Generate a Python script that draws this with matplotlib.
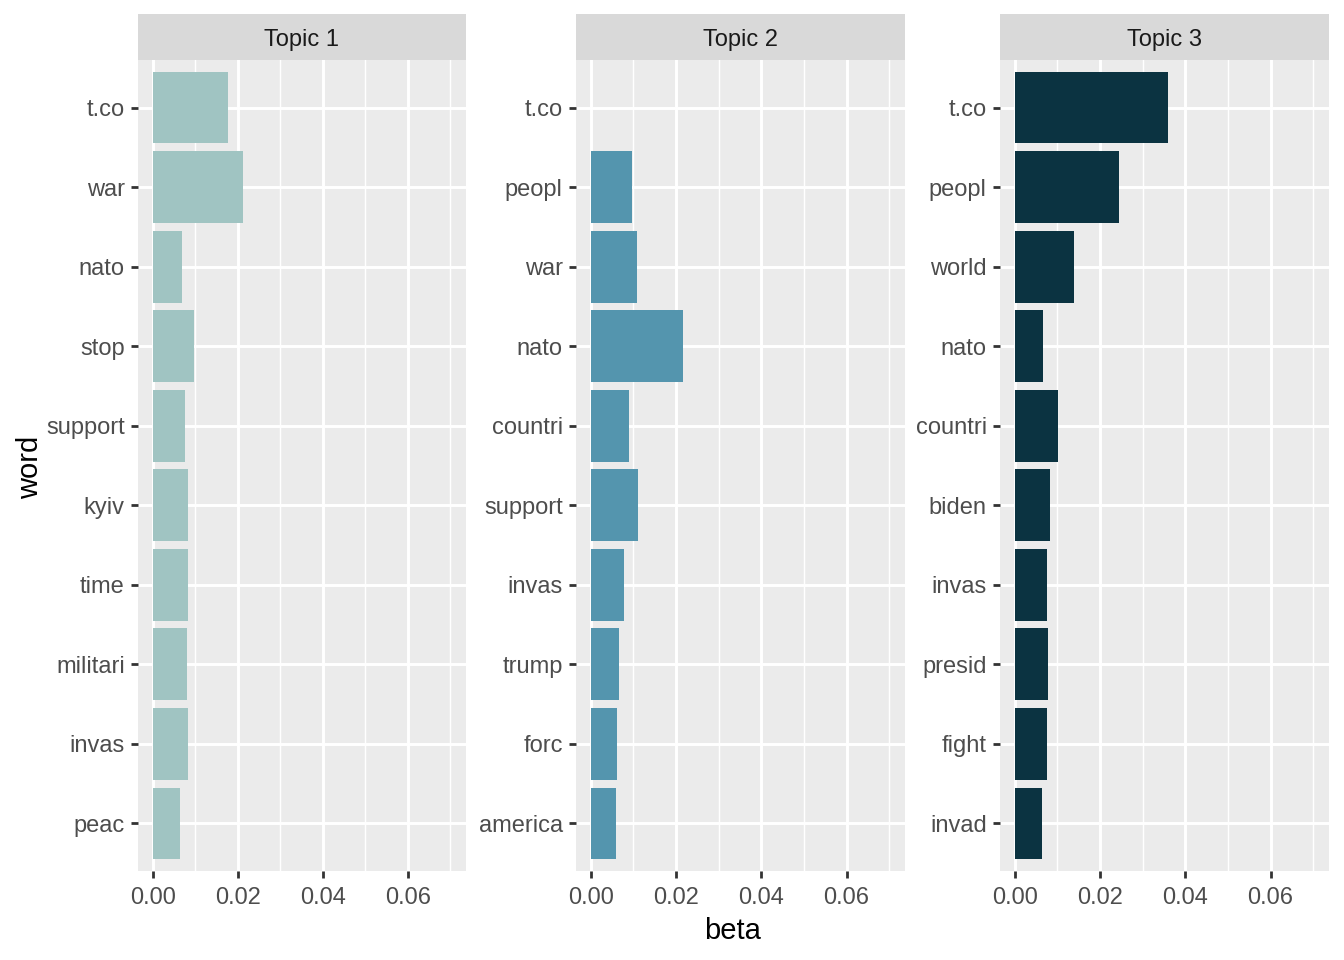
import numpy as np
import matplotlib.pyplot as plt
from matplotlib.ticker import MultipleLocator

# top-to-bottom word order per topic, with beta values
topics = ["Topic 1", "Topic 2", "Topic 3"]
words1 = ["t.co", "war", "nato", "stop", "support", "kyiv", "time", "militari", "invas", "peac"]
beta1 = [0.0178, 0.0213, 0.0068, 0.0096, 0.0077, 0.0084, 0.0084, 0.0080, 0.0084, 0.0065]
words2 = ["t.co", "peopl", "war", "nato", "countri", "support", "invas", "trump", "forc", "america"]
beta2 = [0.0, 0.0096, 0.0108, 0.0216, 0.0089, 0.0111, 0.0078, 0.0066, 0.0061, 0.0059]
words3 = ["t.co", "peopl", "world", "nato", "countri", "biden", "invas", "presid", "fight", "invad"]
beta3 = [0.0360, 0.0245, 0.0139, 0.0066, 0.0101, 0.0082, 0.0075, 0.0078, 0.0075, 0.0064]
colors = ["#A0C4C2", "#5495AE", "#0B3341"]

W, H = 1344, 960
fig = plt.figure(figsize=(W / 100, H / 100), dpi=100)
plt.rcParams['font.family'] = ['Liberation Sans', 'DejaVu Sans']

# panel pixel boxes (left, right)
panels = [(138, 466), (576, 905), (1000, 1329)]
ptop, pbot = 60, 871
stop_ = 14

data = [(words1, beta1), (words2, beta2), (words3, beta3)]
for i, ((l, r), (words, beta)) in enumerate(zip(panels, data)):
    ax = fig.add_axes([l / W, 1 - pbot / H, (r - l) / W, (pbot - ptop) / H])
    ax.set_facecolor("#EBEBEB")
    y = np.arange(len(words))[::-1]
    ax.barh(y, beta, height=0.9, color=colors[i], zorder=3)
    ax.set_xlim(-0.00346, 0.0737)
    ax.set_ylim(-0.6, 9.6)
    ax.set_yticks(y)
    ax.set_yticklabels(words)
    ax.xaxis.set_major_locator(MultipleLocator(0.02))
    ax.xaxis.set_minor_locator(MultipleLocator(0.01))
    ax.set_xticks([0, 0.02, 0.04, 0.06])
    ax.set_xticklabels(["0.00", "0.02", "0.04", "0.06"])
    ax.grid(True, which="major", color="white", linewidth=2.1, zorder=1)
    ax.grid(True, which="minor", axis="x", color="white", linewidth=1.05, zorder=1)
    ax.tick_params(which="major", length=5.3, width=2.0, color="#333333",
                   labelcolor="#4D4D4D", labelsize=17, pad=4.2)
    ax.tick_params(axis="x", which="major", pad=6.5)
    ax.tick_params(which="minor", length=0)
    for s in ax.spines.values():
        s.set_visible(False)
    ax.set_axisbelow(True)

    # facet strip
    sax = fig.add_axes([l / W, 1 - ptop / H, (r - l) / W, (ptop - stop_) / H])
    sax.set_facecolor("#D9D9D9")
    sax.set_xticks([])
    sax.set_yticks([])
    for s in sax.spines.values():
        s.set_visible(False)
    sax.text(0.5, 0.44, topics[i], ha="center", va="center", fontsize=17,
             color="#1A1A1A", transform=sax.transAxes)

fig.text(733 / W, 1 - 931 / H, "beta", ha="center", va="center", fontsize=21, color="black")
fig.text(30 / W, 1 - 467 / H, "word", ha="center", va="center", fontsize=21,
         color="black", rotation=90)

fig.savefig("out.png", dpi=100)
